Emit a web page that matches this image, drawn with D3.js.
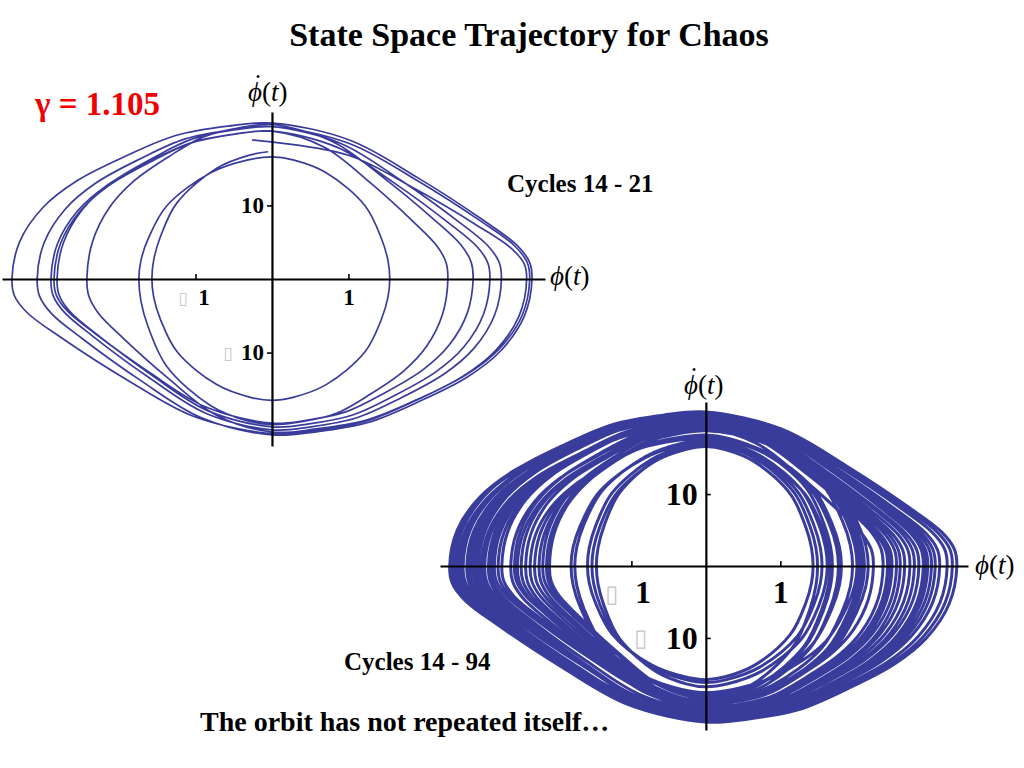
<!DOCTYPE html>
<html lang="en">
<head>
<meta charset="UTF-8">
<title>State Space Trajectory for Chaos</title>
<script src="https://d3js.org/d3.v7.min.js"></script>
<style>
  body { margin: 0; background: #fff; }
  svg text { font-family: "Liberation Serif", "Times New Roman", serif; }
</style>
</head>
<body>
<script>
  // Texts
  const titleText = "State Space Trajectory for Chaos";
  const gammaText = "\u03b3 = 1.105";
  const footerText = "The orbit has not repeated itself\u2026";
  const xTicks = [-1, 1];
  const yTicks = [-10, 10];

  // One quarter of a swing, in fractions of (turning point, peak speed),
  // read off the outer (pointed) loops and the inner (round) loops
  const lemonUpper = [[0, 1], [0.30, 0.89], [0.56, 0.65], [0.81, 0.38], [0.94, 0.22], [0.99, 0.11], [1, 0]];
  const lemonLower = [[1, 0], [0.97, -0.24], [0.88, -0.46], [0.75, -0.63], [0.56, -0.79], [0.37, -0.92], [0.17, -0.98], [0, -1]];
  const roundUpper = [[0, 1], [0.18, 0.975], [0.46, 0.87], [0.79, 0.60], [0.93, 0.33], [0.985, 0.15], [1, 0]];
  const roundLower = [[1, 0], [0.985, -0.15], [0.93, -0.33], [0.79, -0.60], [0.46, -0.87], [0.18, -0.975], [0, -1]];

  // Cycles 14 - 21: speed at phi=0 going right, right turning point,
  // speed at phi=0 going left, next left turning point
  const shortTops = [18.9, 21.2, 20.7, 20.1, 20.7, 21.0, 20.1, 16.6, 17.3];
  const shortRight = [3.33, 3.40, 3.00, 2.85, 3.37, 2.63, 2.30, 1.54];
  const shortBottom = [-21.0, -21.2, -20.5, -20.1, -20.8, -19.6, -19.8, -16.5];
  const shortLeft = [-3.40, -3.07, -2.89, -2.81, -2.42, -2.85, -1.74, -1.57];
  const shortEnds = [-0.26, -0.05];

  // Cycles 14 - 94 (visible bands of the long run)
  const longTops = [20.4, 21.2, 20.9, 19.6, 18.9, 17.2, 16.6, 17.0, 19.2, 20.1,
    20.8, 21.4, 21.0, 20.6, 19.9, 19.0, 18.0, 17.5, 16.9, 18.8,
    20.2, 20.7, 21.0, 20.6, 19.8, 19.3, 17.8, 19.7, 20.3, 20.9,
    20.5, 19.1, 18.2, 18.8, 20.0];
  const longRight = [2.86, 3.31, 3.08, 2.44, 2.03, 1.56, 1.44, 1.50, 2.25, 2.67,
    3.14, 3.37, 3.24, 2.98, 2.56, 2.09, 1.82, 1.63, 1.67, 2.18,
    2.74, 3.03, 2.95, 2.80, 2.47, 2.13, 1.78, 2.50, 2.61, 2.92,
    2.38, 1.97, 1.70, 2.06];
  const longBottom = [-20.6, -21.5, -21.0, -19.8, -17.6, -16.2, -15.8, -18.4, -19.3, -20.3,
    -21.1, -21.7, -21.3, -20.8, -20.0, -19.1, -18.0, -16.8, -18.6, -19.2,
    -20.4, -20.9, -21.2, -20.7, -19.9, -19.4, -18.9, -20.2, -20.5, -21.0,
    -19.7, -19.0, -18.5, -19.3];
  const longLeft = [-3.29, -3.41, -2.97, -2.42, -1.81, -1.53, -1.59, -2.19, -2.84, -3.13,
    -3.37, -3.44, -3.21, -2.92, -2.53, -2.30, -1.76, -1.47, -2.10, -2.74,
    -3.05, -3.26, -3.33, -3.01, -2.62, -2.36, -2.57, -2.88, -3.09, -3.17,
    -2.48, -2.24, -2.14, -2.79];
  const longEnds = [-0.10, -0.05];

  const lineColor = "#3a3c9c";

  function swingPoints(tops, rights, bottoms, lefts, ends) {
    const pts = [[ends[0], tops[0]]];
    const push = (shape, sx, sy) => shape.slice(1).forEach(([u, v]) => pts.push([u * sx, v * sy]));
    rights.forEach((r, i) => {
      const l = lefts[i], b = bottoms[i];
      const rightRound = r < 2.2, leftRound = -l < 2.0;
      push(rightRound ? roundUpper : lemonUpper, r, tops[i]);
      push(rightRound ? roundLower : lemonLower, r, -b);
      push(leftRound ? roundUpper : lemonUpper, l, b);
      push(leftRound ? roundLower : lemonLower, l, -tops[i + 1]);
    });
    pts[pts.length - 1][0] = ends[1];
    return pts;
  }

  const svg = d3.select("body").append("svg")
    .attr("width", 1024)
    .attr("height", 768);

  // phi(t), optionally with the time-derivative dot over phi
  function phiLabel(g, pos, dotted) {
    const t = g.append("text")
      .attr("x", pos[0]).attr("y", pos[1])
      .style("font-size", "27px");
    const phi = t.append("tspan").style("font-style", "italic").text("\u03d5");
    if (dotted) {
      const dot = t.append("tspan").text("\u02d9");
      const pw = phi.node().getComputedTextLength();
      const dw = dot.node().getComputedTextLength();
      dot.attr("dx", -(pw + dw) / 2 + 3).attr("dy", -8);
      t.append("tspan").attr("dx", (pw - dw) / 2 - 3).attr("dy", 8).text("(");
    } else {
      t.append("tspan").text("(");
    }
    t.append("tspan").style("font-style", "italic").text("t");
    t.append("tspan").text(")");
  }

  function drawPanel(p) {
    const x = d3.scaleLinear().domain(p.xDomain).range(p.xRange);
    const y = d3.scaleLinear().domain(p.yDomain).range(p.yRange);
    const g = svg.append("g");

    const line = d3.line()
      .x(d => x(d[0]))
      .y(d => y(d[1]))
      .curve(d3.curveCatmullRom.alpha(0.5));

    g.append("path")
      .datum(p.points)
      .attr("fill", "none")
      .attr("stroke", lineColor)
      .attr("stroke-width", p.lineWidth)
      .attr("stroke-linejoin", "round")
      .attr("d", line);

    // horizontal axis
    const xAxis = g.append("g")
      .attr("transform", `translate(0,${y(0)})`)
      .call(d3.axisBottom(x).tickValues(xTicks).tickSizeInner(-5).tickSizeOuter(0).tickFormat(d => Math.abs(d)));
    // vertical axis
    const yAxis = g.append("g")
      .attr("transform", `translate(${x(0)},0)`)
      .call(d3.axisLeft(y).tickValues(yTicks).tickSizeInner(p.yTickIn).tickSizeOuter(0).tickFormat(d => Math.abs(d)));

    [xAxis, yAxis].forEach(a => {
      a.select(".domain").attr("stroke", "#000").attr("stroke-width", 2.2);
      a.selectAll(".tick line").attr("stroke", "#000").attr("stroke-width", 1.6);
      a.selectAll(".tick text")
        .attr("fill", "#000")
        .style("font-family", '"Liberation Serif", serif')
        .style("font-weight", "bold")
        .style("font-size", p.tickFont + "px");
    });

    xAxis.selectAll(".tick text")
      .attr("dy", null)
      .attr("y", p.xLabelY)
      .attr("x", d => d < 0 ? p.xMinusShift : 0);
    yAxis.selectAll(".tick text")
      .attr("x", p.yLabelX);

    // missing minus glyph, drawn as the box the original shows
    xAxis.selectAll(".tick").filter(d => d < 0).append("text")
      .attr("x", p.xTofu).attr("y", p.xLabelY - 1)
      .attr("text-anchor", "middle")
      .style("font-family", '"DejaVu Sans", sans-serif')
      .style("font-size", p.tofuFont + "px")
      .attr("fill", "#c9c9c9")
      .text("\u25af");
    yAxis.selectAll(".tick").filter(d => d < 0).append("text")
      .attr("x", p.yTofu).attr("dy", "0.32em")
      .attr("text-anchor", "middle")
      .style("font-family", '"DejaVu Sans", sans-serif')
      .style("font-size", p.tofuFont + "px")
      .attr("fill", "#c9c9c9")
      .text("\u25af");

    // axis names
    phiLabel(g, p.yName, true);
    phiLabel(g, p.xName, false);

    g.append("text")
      .attr("x", p.note[0]).attr("y", p.note[1])
      .style("font-weight", "bold")
      .style("font-size", "25px")
      .text(p.noteText);
  }

  drawPanel({
    points: swingPoints(shortTops, shortRight, shortBottom, shortLeft, shortEnds),
    xDomain: [-3.53, 3.57], xRange: [2, 545],
    yDomain: [-22.7, 22.7], yRange: [446, 112],
    lineWidth: 1.7,
    tickFont: 23, xLabelY: 26, xMinusShift: 8, xTofu: -13,
    yTickIn: 5, yLabelX: -8, yTofu: -44, tofuFont: 17,
    yName: [248, 101], xName: [550, 285],
    note: [507, 192], noteText: "Cycles 14 - 21"
  });

  drawPanel({
    points: swingPoints(longTops, longRight, longBottom, longLeft, longEnds),
    xDomain: [-3.57, 3.52], xRange: [440, 968],
    yDomain: [-22.8, 22.8], yRange: [730, 402],
    lineWidth: 3,
    tickFont: 32, xLabelY: 37, xMinusShift: 11, xTofu: -20,
    yTickIn: -5, yLabelX: -8, yTofu: -65, tofuFont: 24,
    yName: [684, 394], xName: [975, 574],
    note: [344, 670], noteText: "Cycles 14 - 94"
  });

  svg.append("text")
    .attr("x", 529).attr("y", 46)
    .attr("text-anchor", "middle")
    .style("font-weight", "bold")
    .style("font-size", "34px")
    .text(titleText);

  svg.append("text")
    .attr("x", 35).attr("y", 115)
    .attr("fill", "#f00000")
    .style("font-weight", "bold")
    .style("font-size", "33px")
    .text(gammaText);

  svg.append("text")
    .attr("x", 200).attr("y", 731)
    .style("font-weight", "bold")
    .style("font-size", "28px")
    .text(footerText);
</script>
</body>
</html>
